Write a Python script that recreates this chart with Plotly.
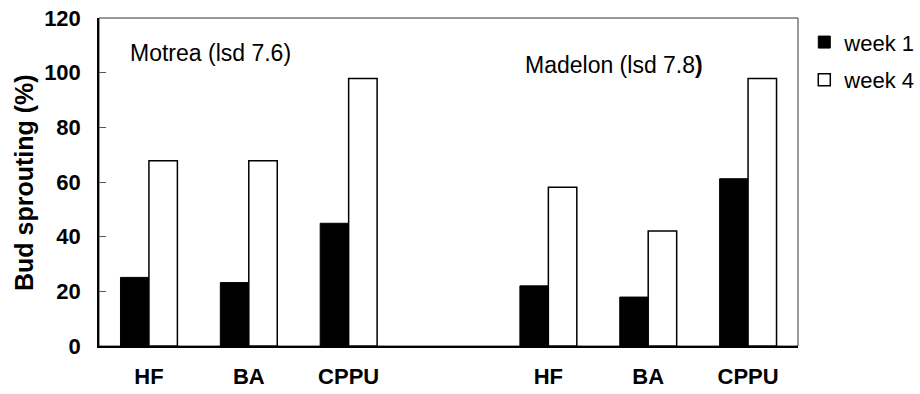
import plotly.graph_objects as go

treatments = ["HF", "BA", "CPPU"]
cultivars = ["Motrea (lsd 7.6)", "Madelon (lsd 7.8<b>)</b>"]
week1 = {"Motrea": [25.1, 23.2, 44.9], "Madelon": [22.0, 17.9, 61.2]}
week4 = {"Motrea": [67.8, 67.8, 97.9], "Madelon": [58.1, 42.1, 97.9]}
y_ticks = [0, 20, 40, 60, 80, 100, 120]

FONT = "Arial, Liberation Sans, sans-serif"

# x positions: three treatments per cultivar, one empty slot between cultivars
x_pos = [0, 1, 2, 4, 5, 6]
x_labels = treatments + treatments
w1 = week1["Motrea"] + week1["Madelon"]
w4 = week4["Motrea"] + week4["Madelon"]

fig = go.Figure()
fig.add_trace(go.Bar(x=x_pos, y=w1, name="week 1", legendgroup="a",
                     marker=dict(color="black", line=dict(color="black", width=1))))
fig.add_trace(go.Bar(x=x_pos, y=w4, name="week 4", legendgroup="b",
                     marker=dict(color="white", line=dict(color="black", width=1.5))))

fig.update_layout(
    width=920, height=394,
    margin=dict(l=99, r=122, t=18, b=48, autoexpand=False),
    paper_bgcolor="white", plot_bgcolor="white",
    barmode="group", bargap=0.43, bargroupgap=0,
    font=dict(family=FONT, color="black"),
    showlegend=True,
    legend=dict(x=1.009, y=0.99, xanchor="left", yanchor="top",
                font=dict(size=22, family=FONT), tracegroupgap=6,
                bgcolor="rgba(0,0,0,0)", itemwidth=30),
    xaxis=dict(range=[-0.5, 6.5], tickvals=x_pos, ticktext=x_labels,
               automargin=False,
               showgrid=False, zeroline=False,
               showline=True, linecolor="black", linewidth=1.5,
               ticks="", ticklabelstandoff=10,
               tickfont=dict(size=22, family=FONT, weight="bold")),
    yaxis=dict(range=[0, 120], tickvals=y_ticks, automargin=False,
               showgrid=False, zeroline=False,
               showline=True, linecolor="black", linewidth=1.5,
               ticks="inside", ticklen=7, tickcolor="#555", tickwidth=1,
               ticklabelstandoff=12,
               tickfont=dict(size=22, family=FONT, weight="bold")),
)

fig.add_shape(type="rect", xref="paper", yref="paper", x0=0, x1=1, y0=0, y1=1,
              line=dict(color="#333", width=1), layer="below")

# y-axis title placed as a rotated annotation
fig.add_annotation(text="<b>Bud sprouting (%)</b>", x=-0.1073, y=0.5, xref="paper",
                   yref="paper", showarrow=False, textangle=-90,
                   xanchor="center", yanchor="middle",
                   font=dict(size=25, family=FONT))

fig.add_annotation(text=cultivars[0], x=0.0415, y=107.2, xref="paper", yref="y",
                   xanchor="left", yanchor="middle", showarrow=False,
                   font=dict(size=23, family=FONT))
fig.add_annotation(text=cultivars[1], x=0.6066, y=102.8, xref="paper", yref="y",
                   xanchor="left", yanchor="middle", showarrow=False,
                   font=dict(size=23, family=FONT))

fig.write_html("out.html")
